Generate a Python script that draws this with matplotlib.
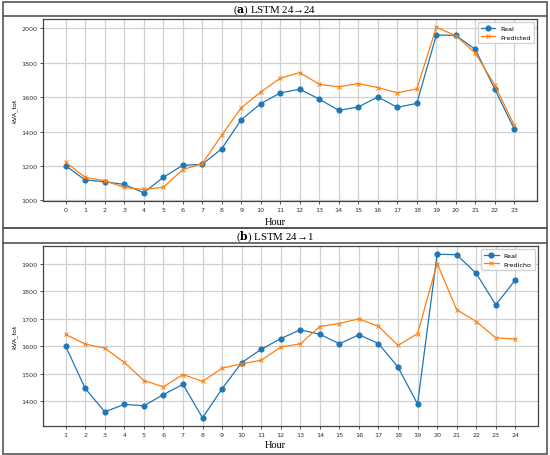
import numpy as np
import matplotlib
matplotlib.use('Agg')
import matplotlib.pyplot as plt
from matplotlib.patches import Rectangle
from matplotlib.lines import Line2D

# (a) LSTM 24->24
hours_a = list(range(0, 24))
real_a = [1202, 1119, 1109, 1093, 1045, 1134, 1204, 1210, 1300, 1469, 1562, 1625,
          1646, 1589, 1523, 1543, 1601, 1541, 1564, 1961, 1959, 1877, 1646, 1414]
pred_a = [1222, 1134, 1115, 1076, 1064, 1076, 1179, 1214, 1379, 1539, 1630, 1710,
          1743, 1675, 1660, 1679, 1656, 1625, 1648, 2006, 1957, 1856, 1669, 1436]

# (b) LSTM 24->1
hours_b = list(range(1, 25))
real_b = [1600, 1446, 1361, 1388, 1383, 1424, 1461, 1339, 1445, 1540, 1589, 1628,
          1660, 1644, 1609, 1642, 1610, 1524, 1389, 1936, 1934, 1866, 1751, 1842]
pred_b = [1643, 1608, 1593, 1541, 1475, 1452, 1497, 1472, 1520, 1536, 1549, 1597,
          1609, 1672, 1683, 1700, 1673, 1603, 1646, 1902, 1734, 1690, 1631, 1626]

W, H = 550, 456
fig = plt.figure(figsize=(W / 100, H / 100), dpi=100)
serif = ['Liberation Serif', 'DejaVu Serif']
edge = '#555555'

def px(x0, y0, x1, y1):
    # pixel box (top-left origin) -> figure fraction rect
    return [x0 / W, 1 - y1 / H, (x1 - x0) / W, (y1 - y0) / H]

def panel(top, bottom, title_y, sep_y, letter, rest, hour_y):
    fig.add_artist(Rectangle((3 / W, 1 - bottom / H), 544 / W, (bottom - top) / H,
                             transform=fig.transFigure, fill=False, ec=edge, lw=1.2))
    fig.add_artist(Line2D([3 / W, 547 / W], [1 - sep_y / H] * 2,
                          transform=fig.transFigure, color=edge, lw=1.2))
    fig.text(0.5, 1 - title_y / H, r'($\mathbf{' + letter + r'}$) ' + rest,
             ha='center', va='center', fontsize=7.8, family=serif)
    fig.text(0.5, 1 - hour_y / H, 'Hour', ha='center', va='center',
             fontsize=7.5, family=serif)

def draw(ax, x, real, pred, lab2, xlim):
    ax.plot(x, real, color='#1f77b4', marker='o', ms=3.4, lw=0.9, label='Real')
    ax.plot(x, pred, color='#ff7f0e', marker='x', ms=3.2, mew=0.7, lw=0.9, label=lab2)
    ax.set_xticks(x)
    ax.set_xlim(*xlim)
    ax.grid(True, color='#d0d0d0', lw=0.9)
    ax.set_axisbelow(True)
    ax.tick_params(labelsize=4.6, length=2, width=0.6, pad=2, colors='#333333')
    ax.set_ylabel('kVA_tot', fontsize=4.6, labelpad=3)
    for s in ax.spines.values():
        s.set_color('#444444')
        s.set_linewidth(0.9)
    ax.legend(loc='upper right', fontsize=4.6, handlelength=2.2, framealpha=0.9,
              edgecolor='#cccccc', borderpad=0.5, labelspacing=0.5)

plt.rcParams['mathtext.fontset'] = 'dejavuserif'

panel(3, 229, 10, 17, 'a', 'LSTM 24→24', 223)
panel(229, 455, 237, 244, 'b', 'LSTM 24→1', 446)

ax1 = fig.add_axes(px(43, 20, 537, 202))
draw(ax1, hours_a, real_a, pred_a, 'Predicted', (-1.16, 24.16))
ax1.set_yticks([1000, 1200, 1400, 1600, 1800, 2000])

ax2 = fig.add_axes(px(43, 247, 538, 427))
draw(ax2, hours_b, real_b, pred_b, 'Predicho', (-0.16, 25.16))
ax2.set_yticks([1400, 1500, 1600, 1700, 1800, 1900])

fig.savefig('out.png', dpi=100)
